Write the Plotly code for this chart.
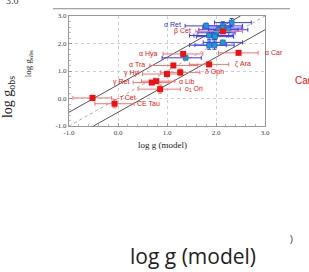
import plotly.graph_objects as go

# ---- data ----
red_names = ["τ Cet", "CE Tau", "γ Ret", "α Lib", "o<sub>1</sub> Ori", "γ Hyi",
             "δ Oph", "α Tra", "ζ Ara", "α Hya", "α Car", "β Cet"]
red_x = [-0.52, -0.07, 0.69, 0.78, 0.86, 1.00, 1.27, 1.13, 1.86, 1.33, 2.46, 2.14]
red_y = [0.02, -0.19, 0.58, 0.63, 0.34, 0.89, 0.95, 1.20, 1.24, 1.62, 1.66, 2.44]
red_xm = [0.40, 0.40, 0.38, 0.30, 0.45, 0.50, 0.40, 0.48, 0.40, 0.41, 0.41, 0.55]
red_xp = [0.39, 0.40, 0.35, 0.38, 0.41, 0.30, 0.40, 0.50, 0.40, 0.40, 0.40, 0.40]
red_ye = [0.10, 0.15, 0.06, 0.06, 0.15, 0.10, 0.12, 0.06, 0.06, 0.08, 0.06, 0.06]

blue_x = [1.80, 2.14, 2.32, 2.13, 2.25, 2.05, 2.01, 1.95, 1.86, 1.98, 1.86, 1.97, 2.14, 1.38]
blue_y = [2.64, 2.64, 2.76, 2.56, 2.50, 2.50, 2.39, 2.29, 2.29, 2.25, 1.94, 1.94, 2.04, 1.48]
blue_xm = [0.43, 0.40, 0.35, 0.40, 0.40, 0.40, 0.38, 0.40, 0.40, 0.38, 0.40, 0.40, 0.40, 0.48]
blue_xp = [0.50, 0.40, 0.40, 0.40, 0.40, 0.40, 0.38, 0.40, 0.40, 0.38, 0.35, 0.40, 0.40, 0.32]
blue_ye = [0.10, 0.15, 0.15, 0.10, 0.10, 0.10, 0.10, 0.15, 0.15, 0.10, 0.15, 0.15, 0.05, 0.06]

ticks = [-1.0, 0.0, 1.0, 2.0, 3.0]
tick_text = ["-1.0", "0.0", "1.0", "2.0", "3.0"]

# reference lines: y = x and y = x +/- 0.5
line_mid_x = [-1.0, 3.0]
line_up_x = [-1.0, 2.5]
line_lo_x = [-0.5, 3.0]
offset = 0.5

# label placement (data coordinates)
left_labels = [("α Hya", 0.86, 1.61), ("α Tra", 0.59, 1.23), ("γ Hyi", 0.49, 0.91),
               ("γ Ret", 0.27, 0.60)]
right_labels = [("τ Cet", 0.00, 0.04), ("CE Tau", 0.35, -0.18), ("α Car", 2.96, 1.66),
                ("ζ Ara", 2.35, 1.24), ("δ Oph", 1.73, 0.95), ("α Lib", 1.20, 0.63),
                ("o<sub>1</sub> Ori", 1.33, 0.34)]
blue_label = ("α Ret", 1.33, 2.69)
betacet_label = ("β Cet", 1.53, 2.47)

RED = "#ee1111"
RED_ERR = "#ff7070"
BLUE_ERR = "#3a3aff"
TEAL = "#1e9cc4"

fig = go.Figure()

fig.add_trace(go.Scatter(x=line_mid_x, y=line_mid_x, mode="lines",
                         line=dict(color="#aaaaaa", width=1, dash="dot"),
                         hoverinfo="skip", showlegend=False))
fig.add_trace(go.Scatter(x=line_up_x, y=[v + offset for v in line_up_x], mode="lines",
                         line=dict(color="#555555", width=1),
                         hoverinfo="skip", showlegend=False))
fig.add_trace(go.Scatter(x=line_lo_x, y=[v - offset for v in line_lo_x], mode="lines",
                         line=dict(color="#555555", width=1),
                         hoverinfo="skip", showlegend=False))

fig.add_trace(go.Scatter(
    x=blue_x, y=blue_y, mode="markers",
    marker=dict(symbol="square", size=5, color=TEAL, line=dict(color="#2244cc", width=0.5)),
    error_x=dict(type="data", symmetric=False, array=blue_xp, arrayminus=blue_xm,
                 color=BLUE_ERR, thickness=1, width=2),
    error_y=dict(type="data", array=blue_ye, color=BLUE_ERR, thickness=1, width=2),
    showlegend=False))

fig.add_trace(go.Scatter(
    x=red_x, y=red_y, mode="markers", text=red_names,
    marker=dict(symbol="square", size=6, color=RED),
    error_x=dict(type="data", symmetric=False, array=red_xp, arrayminus=red_xm,
                 color=RED_ERR, thickness=1, width=2),
    error_y=dict(type="data", array=red_ye, color=RED_ERR, thickness=1, width=2),
    showlegend=False))

lab_font = dict(family="Liberation Sans, Arial", size=7, color=RED)
for t, x, y in left_labels:
    fig.add_annotation(x=x, y=y, text=t, showarrow=False, xanchor="right",
                       yanchor="middle", font=lab_font, xref="x", yref="y")
for t, x, y in right_labels:
    fig.add_annotation(x=x, y=y, text=t, showarrow=False, xanchor="left",
                       yanchor="middle", font=lab_font, xref="x", yref="y")
fig.add_annotation(x=blue_label[1], y=blue_label[2], text=blue_label[0], showarrow=False,
                   xanchor="right", yanchor="middle",
                   font=dict(family="Liberation Sans, Arial", size=7, color="#2233dd"))
fig.add_annotation(x=betacet_label[1], y=betacet_label[2], text=betacet_label[0],
                   showarrow=False, xanchor="right", yanchor="middle", font=lab_font)

# ---- outer page elements (pixel positions converted to paper coords) ----
W, H = 309, 272
L, R, T, B = 69, 44, 12, 146
pw, ph = W - L - R, H - T - B


def px(xp):
    return (xp - L) / pw


def py(yp):
    return (H - B - yp) / ph


def page_text(x, y, text, size, family, color, angle=0, xa="center", ya="middle"):
    fig.add_annotation(xref="paper", yref="paper", x=px(x), y=py(y), text=text,
                       showarrow=False, xanchor=xa, yanchor=ya, textangle=angle,
                       font=dict(family=family, size=size, color=color))


fig.add_shape(type="line", xref="paper", yref="paper", x0=px(53), x1=px(290),
              y0=py(4.5), y1=py(4.5), line=dict(color="#888888", width=1))

page_text(12, 4, "3.0", 10, "Liberation Serif", "#444444", ya="bottom")
page_text(28, 61, "log g<sub>obs</sub>", 9, "Liberation Serif", "#222222", angle=-90)
page_text(8, 96, "log g<sub>obs</sub>", 14, "Liberation Serif", "#222222", angle=-90)
page_text(162, 146, "log g (model)", 9, "Liberation Serif", "#222222")
page_text(193, 261, "log g (model)", 21, "Open Sans", "#222222")
page_text(303, 79, "Car", 10, "Liberation Sans", RED)
page_text(291, 243, ")", 9, "Liberation Sans", "#333333")

axis_common = dict(range=[-1, 3], tickvals=ticks, ticktext=tick_text,
                   showgrid=True, gridcolor="#d0d0d0", griddash="dot", gridwidth=1,
                   zeroline=False, showline=True, linecolor="#999999", linewidth=1,
                   mirror=True, ticks="inside", ticklen=3, tickcolor="#999999",
                   tickfont=dict(family="Liberation Serif", size=7, color="#444444"),
                   minor=dict(ticks="inside", ticklen=2, dtick=0.2, tickcolor="#bbbbbb"))

fig.update_layout(
    width=W, height=H,
    margin=dict(l=L, r=R, t=T, b=B),
    paper_bgcolor="white", plot_bgcolor="white",
    xaxis=dict(**axis_common),
    yaxis=dict(**axis_common),
    showlegend=False,
)

fig.write_html("out.html", config={"displayModeBar": False},
               post_script="document.body.style.margin='0';document.body.style.overflow='hidden';")
